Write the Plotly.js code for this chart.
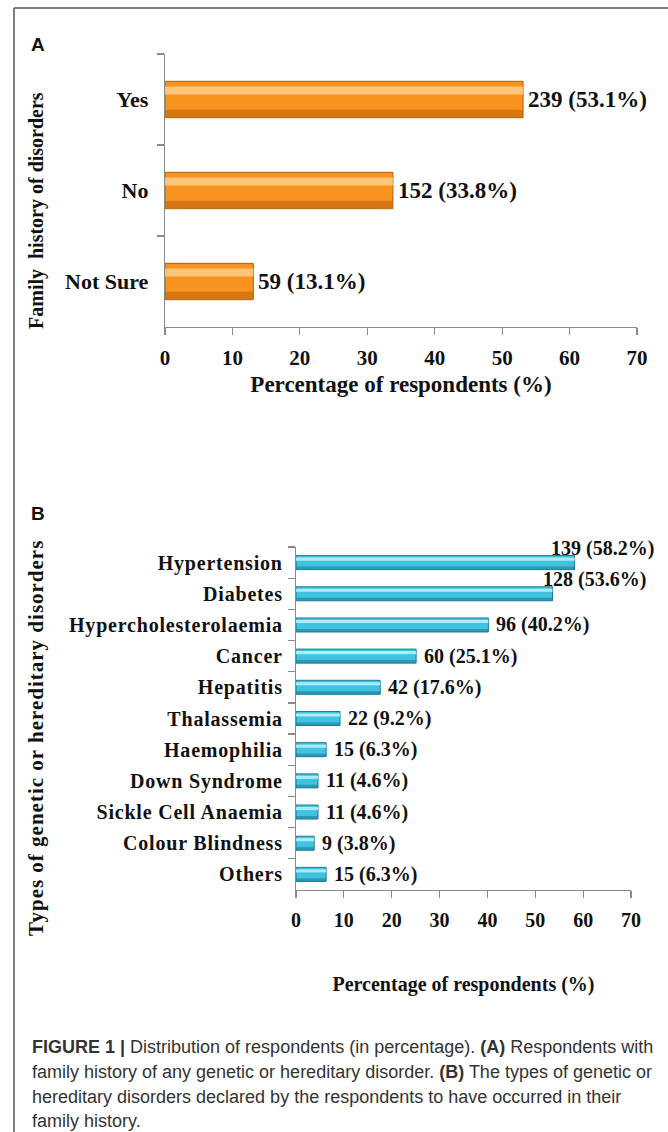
<!DOCTYPE html>
<html><head><meta charset="utf-8">
<script src="https://cdn.plot.ly/plotly-3.0.1.min.js"></script>
<style>
html,body{margin:0;padding:0;background:#fff;}
#chart{width:668px;height:1132px;}
.y2tick text{letter-spacing:0.8px;}
.annotation[data-index="17"] text{letter-spacing:1px;}
</style></head><body><div id="chart"></div>
<script>
// ---- data ----
const catsA = ['Yes', 'No', 'Not Sure'];
const countsA = [239, 152, 59];
const pctA = [53.1, 33.8, 13.1];

const catsB = ['Hypertension', 'Diabetes', 'Hypercholesterolaemia', 'Cancer', 'Hepatitis',
  'Thalassemia', 'Haemophilia', 'Down Syndrome', 'Sickle Cell Anaemia', 'Colour Blindness', 'Others'];
const countsB = [139, 128, 96, 60, 42, 22, 15, 11, 11, 9, 15];
const pctB = [58.2, 53.6, 40.2, 25.1, 17.6, 9.2, 6.3, 4.6, 4.6, 3.8, 6.3];

const xTickVals = [0, 10, 20, 30, 40, 50, 60, 70];

const captionLines = [
  '<b>FIGURE 1 |</b> Distribution of respondents (in percentage). <b>(A)</b> Respondents with',
  'family history of any genetic or hereditary disorder. <b>(B)</b> The types of genetic or',
  'hereditary disorders declared by the respondents to have occurred in their',
  'family history.'
];

// ---- helpers ----
const W = 668, H = 1132;
const px = x => x / W;
const py = y => 1 - y / H;
const SERIF = 'Liberation Serif, Times New Roman, serif';
const SANS = 'Liberation Sans, Arial, Helvetica, sans-serif';

function barSet(xv, yv, xa, ya, base, edge, hi, lo, w) {
  return [
    {type: 'bar', orientation: 'h', x: xv, y: yv, xaxis: xa, yaxis: ya, width: w,
     marker: {color: base, line: {color: edge, width: 1}}, hoverinfo: 'x+y', showlegend: false},
    {type: 'bar', orientation: 'h', x: xv, y: yv, xaxis: xa, yaxis: ya, width: w * 0.22, offset: -w * 0.36,
     marker: {color: hi, line: {width: 0}}, hoverinfo: 'skip', showlegend: false},
    {type: 'bar', orientation: 'h', x: xv, y: yv, xaxis: xa, yaxis: ya, width: w * 0.2, offset: w * 0.28,
     marker: {color: lo, line: {width: 0}}, hoverinfo: 'skip', showlegend: false}
  ];
}

const traces = [
  ...barSet(pctA, catsA, 'x', 'y', '#F7931E', '#B0600F', 'rgba(255,214,150,0.75)', 'rgba(190,95,10,0.55)', 0.4),
  ...barSet(pctB, catsB, 'x2', 'y2', '#41C3E0', '#1E7D96', 'rgba(200,245,255,0.8)', 'rgba(20,110,140,0.5)', 0.45)
];

const annotations = [];
// value labels A
catsA.forEach((c, i) => {
  annotations.push({x: pctA[i], y: c, xref: 'x', yref: 'y', xanchor: 'left', yanchor: 'middle',
    xshift: 3, showarrow: false, text: countsA[i] + ' (' + pctA[i].toFixed(1) + '%)',
    font: {family: SERIF, size: 23, color: '#111', weight: 'bold'}});
});
// value labels B
catsB.forEach((c, i) => {
  let xs = 6, ys = 0;
  if (i === 0) { xs = -26; ys = 14; }
  if (i === 1) { xs = -12; ys = 14; }
  annotations.push({x: pctB[i], y: c, xref: 'x2', yref: 'y2', xanchor: 'left', yanchor: 'middle',
    xshift: xs, yshift: ys, showarrow: false, text: countsB[i] + ' (' + pctB[i].toFixed(1) + '%)',
    font: {family: SERIF, size: 20, color: '#111', weight: 'bold'}});
});
// panel letters
annotations.push({x: px(29), y: py(44), xref: 'paper', yref: 'paper', xanchor: 'left', yanchor: 'middle',
  showarrow: false, text: '<b>A</b>', font: {family: SANS, size: 19, color: '#111'}});
annotations.push({x: px(29), y: py(513), xref: 'paper', yref: 'paper', xanchor: 'left', yanchor: 'middle',
  showarrow: false, text: '<b>B</b>', font: {family: SANS, size: 19, color: '#111'}});
// y titles
annotations.push({x: px(36), y: py(211), xref: 'paper', yref: 'paper', xanchor: 'center', yanchor: 'middle',
  textangle: -90, showarrow: false, text: 'Family&nbsp;&nbsp;history of disorders',
  font: {family: SERIF, size: 20, color: '#111', weight: 'bold'}});
annotations.push({x: px(36), y: py(738), xref: 'paper', yref: 'paper', xanchor: 'center', yanchor: 'middle',
  textangle: -90, showarrow: false, text: 'Types of genetic or hereditary disorders',
  font: {family: SERIF, size: 21, color: '#111', weight: 'bold'}});
// caption
const capY = [1047, 1072, 1097, 1121];
captionLines.forEach((t, i) => {
  annotations.push({x: px(30), y: py(capY[i]), xref: 'paper', yref: 'paper', xanchor: 'left', yanchor: 'middle',
    showarrow: false, text: t, font: {family: SANS, size: 18, color: '#333'}});
});

const axisLine = '#8a8a8a';
function xAxis(domain, anchor, titleText, tsize, titleSize, standoff) {
  return {domain: domain, anchor: anchor, range: [0, 70], tickvals: xTickVals, ticktext: xTickVals.map(String),
    showgrid: false, zeroline: false, showline: true, linecolor: axisLine, linewidth: 1.2,
    ticks: 'outside', ticklen: 7, tickcolor: axisLine, tickwidth: 1.2, ticklabelstandoff: 5,
    tickfont: {family: SERIF, size: tsize, color: '#111', weight: 'bold'},
    title: {text: titleText, standoff: standoff, font: {family: SERIF, size: titleSize, color: '#111', weight: 'bold'}},
    fixedrange: true};
}
function yAxis(domain, anchor, tsize, standoff) {
  return {domain: domain, anchor: anchor, type: 'category', autorange: 'reversed',
    showgrid: false, zeroline: false, showline: true, linecolor: axisLine, linewidth: 1.2,
    ticks: 'outside', ticklen: 7, tickcolor: axisLine, tickwidth: 1.2, tickson: 'boundaries',
    ticklabelstandoff: standoff,
    tickfont: {family: SERIF, size: tsize, color: '#111', weight: 'bold'}, fixedrange: true};
}

const layout = {
  width: W, height: H, margin: {l: 0, r: 0, t: 0, b: 0},
  paper_bgcolor: '#fff', plot_bgcolor: 'rgba(0,0,0,0)',
  barmode: 'overlay', showlegend: false,
  xaxis: xAxis([px(165), px(637)], 'y', 'Percentage of respondents (%)', 21, 23, 6),
  yaxis: yAxis([py(327), py(54)], 'x', 22, 11),
  xaxis2: xAxis([px(296), px(631)], 'y2', 'Percentage of respondents (%)', 20, 20, 46),
  yaxis2: yAxis([py(890), py(547)], 'x2', 20, 8),
  annotations: annotations,
  shapes: [
    {type: 'line', xref: 'paper', yref: 'paper', x0: px(14), x1: 1, y0: py(8), y1: py(8), line: {color: '#555', width: 1.5}},
    {type: 'line', xref: 'paper', yref: 'paper', x0: px(14), x1: px(14), y0: py(8), y1: 0, line: {color: '#555', width: 1.5}}
  ]
};

Plotly.newPlot('chart', traces, layout, {staticPlot: true, displayModeBar: false});
</script></body></html>
